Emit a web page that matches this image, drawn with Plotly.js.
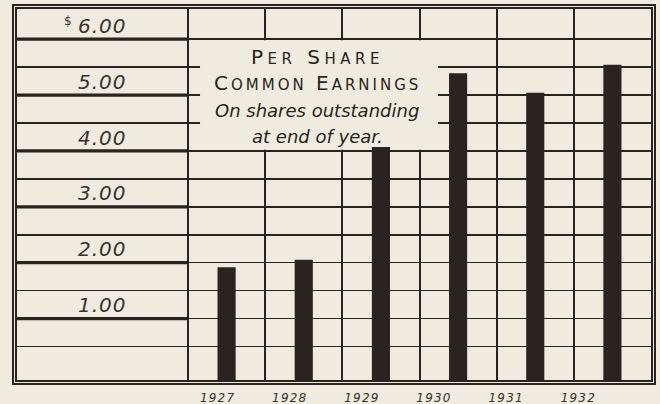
<!DOCTYPE html>
<html>
<head>
<meta charset="utf-8">
<script src="https://cdn.plot.ly/plotly-3.0.1.min.js"></script>
<style>
  html, body { margin: 0; padding: 0; background: #f0ebdf; }
  #chart { width: 660px; height: 404px; }
</style>
</head>
<body>
<div id="chart"></div>
<script>
// values
var years = ["1927", "1928", "1929", "1930", "1931", "1932"];
var earnings = [1.92, 2.05, 4.07, 5.39, 5.04, 5.54];
var dollarTicks = [1, 2, 3, 4, 5, 6];
var dollarText = ["1.00", "2.00", "3.00", "4.00", "5.00", "6.00"];
var halfTicks = [0.5, 1, 1.5, 2, 2.5, 3, 3.5, 4, 4.5, 5, 5.5, 6];
var titleCaps = ["Per Share", "Common Earnings"];
var titleItalic = ["On shares outstanding", "at end of year."];

var ink = "#2b2320";
var paper = "#f0ebdf";
var yMin = -0.1, yMax = 6.54;
var xMin = -2.716, xMax = 5.5;

// big first letter, small caps for the rest
function smallCaps(s, small) {
  return s.split(" ").map(function (w) {
    return w[0].toUpperCase() +
      "<span style='font-size:" + small + "px'>" + w.slice(1).toUpperCase() + "</span>";
  }).join(" ");
}

var bars = {
  x: years,
  y: earnings.map(function (v) { return v - yMin; }),
  base: yMin,
  type: "bar",
  width: 0.235,
  marker: { color: ink, line: { width: 0 } },
  hoverinfo: "skip"
};

// carries the year labels, which sit on their own slightly tighter spacing
var yearAxisTrace = {
  x: years.map(function (y, i) { return i; }),
  y: earnings,
  xaxis: "x2",
  yaxis: "y",
  type: "scatter",
  mode: "markers",
  marker: { opacity: 0 },
  hoverinfo: "skip"
};

var shapes = [];
// outer border of the double frame
shapes.push({
  type: "rect", xref: "paper", yref: "paper",
  x0: -0.0063, x1: 1.0063, y0: -0.0108, y1: 1.0108,
  line: { color: ink, width: 2 }, layer: "above"
});
// heavier rules at whole dollars in the label column
dollarTicks.forEach(function (v) {
  shapes.push({
    type: "line", xref: "x", yref: "y",
    x0: xMin, x1: -0.5, y0: v, y1: v,
    line: { color: ink, width: 3.2 }, layer: "below"
  });
});
// title box covering the grid
shapes.push({
  type: "rect", xref: "x", yref: "y",
  x0: -0.344, x1: 2.74, y0: 4.02, y1: 5.98,
  fillcolor: paper, line: { width: 0 }, layer: "between"
});

var annotations = [];
dollarTicks.forEach(function (v, i) {
  annotations.push({
    xref: "paper", yref: "y", x: 0.1356, y: v + 0.24,
    xanchor: "center", yanchor: "middle",
    text: "<span style='letter-spacing:1px'>" + dollarText[i] + "</span>",
    showarrow: false,
    font: { family: "DejaVu Sans", size: 20, color: "#3a312d", style: "italic" }
  });
});
annotations.push({
  xref: "paper", yref: "y", x: 0.08, y: 6.33,
  xanchor: "center", yanchor: "middle",
  text: "$", showarrow: false,
  font: { family: "DejaVu Sans", size: 12, color: "#3a312d" }
});

var capsY = [5.68, 5.215];
var capsSpacing = [4.5, 3];
titleCaps.forEach(function (t, i) {
  annotations.push({
    xref: "x", yref: "y", x: 1.172, y: capsY[i],
    xanchor: "center", yanchor: "middle",
    text: "<span style='letter-spacing:" + capsSpacing[i] + "px'>" + smallCaps(t, 15) + "</span>",
    showarrow: false,
    font: { family: "DejaVu Sans", size: 20, color: ink }
  });
});
var italicY = [4.72, 4.26];
titleItalic.forEach(function (t, i) {
  annotations.push({
    xref: "x", yref: "y", x: 1.172, y: italicY[i],
    xanchor: "center", yanchor: "middle",
    text: t, showarrow: false,
    font: { family: "DejaVu Sans", size: 18, color: ink, style: "italic" }
  });
});

var layout = {
  width: 660,
  height: 404,
  margin: { l: 17, r: 9, t: 9, b: 24, pad: 0 },
  paper_bgcolor: paper,
  plot_bgcolor: paper,
  showlegend: false,
  xaxis: {
    type: "category",
    categoryorder: "array",
    categoryarray: years,
    range: [xMin, xMax],
    tickson: "boundaries",
    showgrid: true,
    gridcolor: ink,
    gridwidth: 2,
    showticklabels: false,
    ticks: "",
    showline: true,
    linecolor: ink,
    linewidth: 2,
    mirror: true,
    zeroline: false,
    fixedrange: true
  },
  xaxis2: {
    type: "linear",
    overlaying: "x",
    anchor: "y",
    side: "bottom",
    range: [-2.78, 6.007],
    tickmode: "array",
    tickvals: [0, 1, 2, 3, 4, 5],
    ticktext: years.map(function (y) { return "<span style='letter-spacing:1.2px'>" + y + "</span>"; }),
    showgrid: false,
    showline: false,
    zeroline: false,
    ticks: "",
    ticklabelstandoff: 9,
    tickfont: { family: "DejaVu Sans", size: 12, color: "#3a312d", style: "italic" },
    fixedrange: true
  },
  yaxis: {
    range: [yMin, yMax],
    tickmode: "array",
    tickvals: halfTicks,
    showticklabels: false,
    ticks: "",
    showgrid: true,
    gridcolor: ink,
    gridwidth: 1.6,
    zeroline: false,
    showline: true,
    linecolor: ink,
    linewidth: 2,
    mirror: true,
    fixedrange: true
  },
  shapes: shapes,
  annotations: annotations
};

Plotly.newPlot("chart", [bars, yearAxisTrace], layout, { displayModeBar: false, staticPlot: true });
</script>
</body>
</html>
